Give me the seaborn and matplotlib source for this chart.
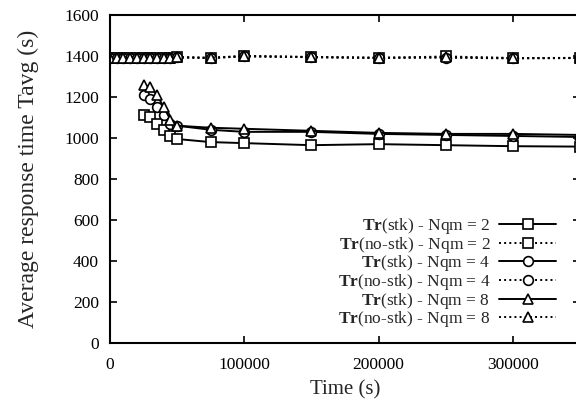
import matplotlib
matplotlib.use("Agg")
import matplotlib.pyplot as plt
import seaborn as sns
import pandas as pd

# ---- data ----
x_stk = [25000, 30000, 35000, 40000, 45000, 50000, 75000, 100000, 150000, 200000, 250000, 300000, 350000]
stk_n2 = [1110, 1100, 1070, 1040, 1010, 995, 980, 975, 965, 970, 965, 960, 958]
stk_n4 = [1210, 1190, 1150, 1110, 1070, 1060, 1040, 1030, 1030, 1020, 1015, 1010, 1005]
stk_n8 = [1260, 1250, 1210, 1150, 1090, 1060, 1050, 1045, 1035, 1025, 1020, 1020, 1015]

x_nostk = [0, 5000, 10000, 15000, 20000, 25000, 30000, 35000, 40000, 45000, 50000,
           75000, 100000, 150000, 200000, 250000, 300000, 350000]
nostk_n2 = [1390, 1390, 1392, 1390, 1391, 1390, 1392, 1390, 1391, 1392, 1395,
            1390, 1400, 1395, 1390, 1398, 1390, 1390]
nostk_n4 = [1390, 1391, 1390, 1392, 1390, 1391, 1390, 1392, 1390, 1391, 1393,
            1390, 1398, 1394, 1392, 1392, 1388, 1390]
nostk_n8 = [1391, 1390, 1392, 1390, 1391, 1390, 1391, 1390, 1392, 1390, 1394,
            1392, 1400, 1395, 1391, 1394, 1390, 1391]

labels = [r"$\mathbf{Tr}$(stk) - Nqm = 2", r"$\mathbf{Tr}$(no-stk) - Nqm = 2",
          r"$\mathbf{Tr}$(stk) - Nqm = 4", r"$\mathbf{Tr}$(no-stk) - Nqm = 4",
          r"$\mathbf{Tr}$(stk) - Nqm = 8", r"$\mathbf{Tr}$(no-stk) - Nqm = 8"]
xticks = [0, 100000, 200000, 300000]
yticks = [0, 200, 400, 600, 800, 1000, 1200, 1400, 1600]

series = [
    (x_stk, stk_n2, "s", "-"),
    (x_nostk, nostk_n2, "s", ":"),
    (x_stk, stk_n4, "o", "-"),
    (x_nostk, nostk_n4, "o", ":"),
    (x_stk, stk_n8, "^", "-"),
    (x_nostk, nostk_n8, "^", ":"),
]

sns.set_style("ticks")
plt.rcParams["font.family"] = ["Liberation Serif", "DejaVu Serif"]
plt.rcParams["mathtext.fontset"] = "custom"
plt.rcParams["mathtext.rm"] = "Liberation Serif"
plt.rcParams["mathtext.bf"] = "Liberation Serif:bold"

fig = plt.figure(figsize=(5.76, 4.05), dpi=100)
ax = fig.add_axes([110/576, (405-343)/405, 470/576, 328/405])

for (xs, ys, m, ls), lab in zip(series, labels):
    df = pd.DataFrame({"x": xs, "y": ys})
    sns.lineplot(data=df, x="x", y="y", ax=ax, color="black", linestyle=ls,
                 marker=m, markersize=7, markerfacecolor="white",
                 markeredgecolor="black", markeredgewidth=1.2,
                 linewidth=1.4, label=lab, sort=False, estimator=None)

ax.set_xlim(0, 350000)
ax.set_ylim(0, 1600)
ax.set_xticks(xticks)
ax.set_xticklabels([str(t) for t in xticks])
ax.set_yticks(yticks)
ax.set_yticklabels([str(t) for t in yticks])
ax.tick_params(direction="in", top=True, right=True, length=5, width=1.2,
               labelsize=12.5, colors="black")
ax.tick_params(axis="x", pad=10)
ax.tick_params(axis="y", pad=8)
for s in ax.spines.values():
    s.set_linewidth(1.5)
    s.set_color("black")
    s.set_visible(True)

ax.set_xlabel("Time (s)", fontsize=15, labelpad=5)
ax.set_ylabel("Average response time Tavg (s)", fontsize=17, labelpad=18)

leg = ax.legend(loc="lower right", bbox_to_anchor=(565/576, (405-338)/405),
                bbox_transform=fig.transFigure, frameon=False, markerfirst=False,
                fontsize=12.5, handlelength=3.3, labelspacing=-0.08,
                handletextpad=0.5, borderpad=0)

fig.savefig("out.png", dpi=100)
